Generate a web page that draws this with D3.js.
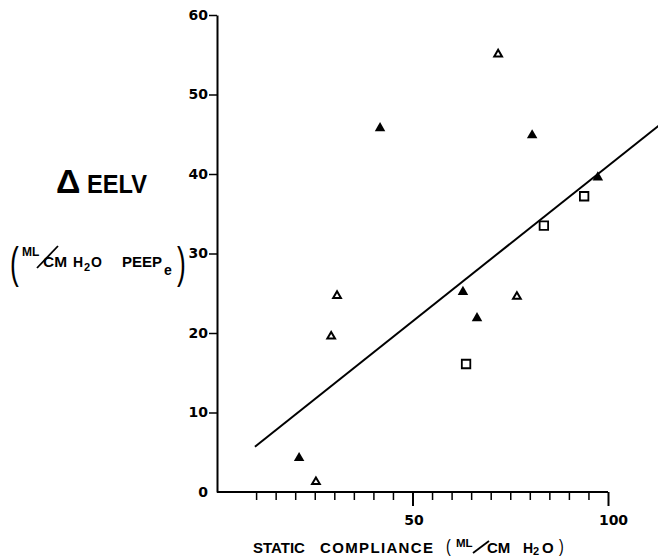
<!DOCTYPE html>
<html>
<head>
<meta charset="utf-8">
<script src="https://cdn.jsdelivr.net/npm/d3@7"></script>
<style>
  body { margin: 0; background: #fff; }
  svg { display: block; }
  text { font-family: "Liberation Sans", Arial, sans-serif; fill: #000; }
  .tick text { font-family: "DejaVu Sans", sans-serif; font-weight: bold; font-size: 14px; }
</style>
</head>
<body>
<div id="chart"></div>
<script>
// values: [static compliance, delta EELV]
var filledTri = [[21.0, 4.4], [41.7, 45.9], [62.9, 25.3], [66.5, 22.0], [80.6, 45.0], [97.4, 39.7]];
var openTri = [[25.3, 1.4], [29.2, 19.7], [30.7, 24.8], [71.9, 55.2], [76.7, 24.7]];
var squares = [[63.7, 16.1], [83.6, 33.5], [93.9, 37.2]];
// regression line end points
var fitLine = [[9.7, 5.7], [113, 46.1]];

var yTicks = [0, 10, 20, 30, 40, 50, 60];
var xTicks = d3.range(10, 101, 5);
var xLabelled = [50, 100];

var width = 658, height = 556;

var svg = d3.select("#chart").append("svg")
  .attr("width", width)
  .attr("height", height);

var x = d3.scaleLinear().domain([0, 100]).range([217, 608]);
var y = d3.scaleLinear().domain([0, 60]).range([492, 15]);

// y axis
var yAxis = svg.append("g")
  .attr("transform", "translate(" + x(0) + ",0)")
  .call(d3.axisLeft(y).tickValues(yTicks).tickSize(8).tickSizeOuter(0).tickPadding(1));
yAxis.select(".domain").attr("stroke-width", 2);
yAxis.selectAll(".tick line").attr("stroke-width", 1.5);
yAxis.selectAll(".tick").filter(function(d){ return d == 0; }).select("line").remove();

// x axis, long ticks at 50 and 100
var xAxis = svg.append("g")
  .attr("transform", "translate(0," + y(0) + ")")
  .call(d3.axisBottom(x).tickValues(xTicks).tickSize(8).tickSizeOuter(0)
    .tickFormat(function(d){ return xLabelled.indexOf(d) >= 0 ? d : ""; }));
xAxis.select(".domain").attr("stroke-width", 2).attr("d", "M" + x(0) + ",0H" + x(100));
xAxis.selectAll(".tick line")
  .attr("stroke-width", function(d){ return xLabelled.indexOf(d) >= 0 ? 2 : 1.5; })
  .attr("y2", function(d){ return xLabelled.indexOf(d) >= 0 ? 14 : 8; });
xAxis.selectAll(".tick text").attr("y", 33).attr("dy", 0).attr("dx", function(d){ return d == 100 ? 5 : 1; });
xAxis.selectAll(".domain, .tick line").attr("stroke", "#000");
yAxis.selectAll(".domain, .tick line").attr("stroke", "#000");

// regression line
var line = d3.line()
  .x(function(d){ return x(d[0]); })
  .y(function(d){ return y(d[1]); });

svg.append("path")
  .datum(fitLine)
  .attr("d", line)
  .style("fill", "none")
  .style("stroke", "#000")
  .style("stroke-width", 2);

// points
svg.selectAll(".filled")
  .data(filledTri)
  .enter()
  .append("path")
  .attr("class", "filled")
  .attr("d", d3.symbol().type(d3.symbolTriangle).size(48))
  .attr("transform", function(d){ return "translate(" + x(d[0]) + "," + (y(d[1]) + 1) + ")"; })
  .style("fill", "#000");

svg.selectAll(".open")
  .data(openTri)
  .enter()
  .append("path")
  .attr("class", "open")
  .attr("d", d3.symbol().type(d3.symbolTriangle).size(26))
  .attr("transform", function(d){ return "translate(" + x(d[0]) + "," + (y(d[1]) + 1) + ")"; })
  .style("fill", "#fff")
  .style("stroke", "#000")
  .style("stroke-width", 2);

svg.selectAll(".sq")
  .data(squares)
  .enter()
  .append("path")
  .attr("class", "sq")
  .attr("d", d3.symbol().type(d3.symbolSquare).size(72))
  .attr("transform", function(d){ return "translate(" + x(d[0]) + "," + y(d[1]) + ")"; })
  .style("fill", "#fff")
  .style("stroke", "#000")
  .style("stroke-width", 1.8);

// x axis title
var xt = svg.append("g").style("font-weight", "bold");
xt.append("text").attr("x", 253).attr("y", 553).style("font-size", "15px").text("STATIC");
xt.append("text").attr("x", 320).attr("y", 553).style("font-size", "15px")
  .attr("textLength", 113).attr("lengthAdjust", "spacing").text("COMPLIANCE");
xt.append("text").attr("transform", "translate(446,552) scale(0.75,1)")
  .style("font-size", "19px").style("font-weight", "normal").text("(");
xt.append("text").attr("x", 456).attr("y", 547).style("font-size", "11.5px").text("ML");
xt.append("line").attr("x1", 473).attr("y1", 553).attr("x2", 489).attr("y2", 541)
  .style("stroke", "#000").style("stroke-width", 1.8);
xt.append("text").attr("x", 487).attr("y", 553).style("font-size", "15px").text("CM");
xt.append("text").attr("x", 523).attr("y", 553).style("font-size", "14px").text("H");
xt.append("text").attr("x", 533).attr("y", 555).style("font-size", "11px").text("2");
xt.append("text").attr("x", 542).attr("y", 553).style("font-size", "15px").text("O");
xt.append("text").attr("transform", "translate(559,552) scale(0.75,1)")
  .style("font-size", "19px").style("font-weight", "normal").text(")");

// y axis title
var yt = svg.append("g").style("font-weight", "bold");
yt.append("text").attr("x", 56).attr("y", 193).style("font-size", "34px").text("\u0394");
yt.append("text").attr("x", 87).attr("y", 193).style("font-size", "25px")
  .attr("textLength", 60).attr("lengthAdjust", "spacingAndGlyphs").text("EELV");

yt.append("text").attr("transform", "translate(10,278) scale(0.6,1)")
  .style("font-size", "44px").style("font-weight", "normal").text("(");
yt.append("text").attr("x", 22).attr("y", 256).style("font-size", "12px").text("ML");
yt.append("line").attr("x1", 37).attr("y1", 268).attr("x2", 58).attr("y2", 246)
  .style("stroke", "#000").style("stroke-width", 1.8);
yt.append("text").attr("x", 43).attr("y", 267).style("font-size", "14px")
  .attr("textLength", 24).attr("lengthAdjust", "spacingAndGlyphs").text("CM");
yt.append("text").attr("x", 73).attr("y", 267).style("font-size", "14px").text("H");
yt.append("text").attr("x", 84).attr("y", 271).style("font-size", "11px").text("2");
yt.append("text").attr("x", 91).attr("y", 267).style("font-size", "14px").text("O");
yt.append("text").attr("x", 122).attr("y", 267).style("font-size", "15px").text("PEEP");
yt.append("text").attr("x", 164).attr("y", 275).style("font-size", "14px").text("e");
yt.append("text").attr("transform", "translate(177,278) scale(0.6,1)")
  .style("font-size", "44px").style("font-weight", "normal").text(")");
</script>
</body>
</html>
